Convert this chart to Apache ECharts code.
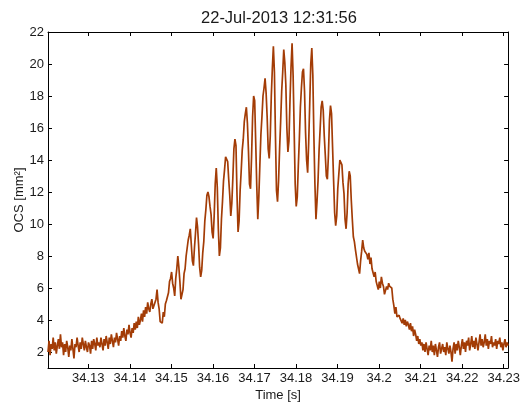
<!DOCTYPE html>
<html>
<head>
<meta charset="utf-8">
<title>OCS trace</title>
<script src="https://cdn.jsdelivr.net/npm/echarts@6/dist/echarts.min.js"></script>
<style>
  html, body { margin: 0; padding: 0; background: #fff; }
  #chart { width: 523px; height: 408px; }
</style>
</head>
<body>
<div id="chart"></div>
<script>
// Sampling of the recorded trace
const startTime = 34.1203;   // s
const sampleStep = 0.00025;  // s

// Optical cross section samples [mm^2]
const ocs = [
  2.0, 2.7, 1.8, 2.5, 2.2, 2.9, 2.1, 2.6, 1.9, 2.4,
  2.8, 2.2, 3.1, 2.3, 2.6, 1.8, 2.5, 2.0, 2.7, 2.3,
  1.7, 2.4, 2.1, 2.8, 2.2, 1.6, 2.5, 2.3, 2.9, 2.4,
  2.0, 2.6, 2.2, 2.9, 2.5, 2.1, 2.7, 2.3, 2.0, 2.6,
  2.4, 1.9, 2.7, 2.2, 2.8, 2.5, 2.1, 2.9, 2.4, 2.6,
  2.3, 2.9, 2.5, 2.1, 2.8, 2.4, 3.0, 2.6, 2.2, 2.9,
  2.5, 3.1, 2.7, 2.3, 2.9, 2.6, 3.2, 2.8, 2.4, 3.0,
  2.7, 3.3, 2.9, 3.5, 3.0, 2.7, 3.4, 3.1, 3.7, 3.2,
  2.9, 3.5, 3.2, 3.8, 3.4, 3.9, 3.5, 4.2, 3.7, 4.0,
  4.4, 3.9, 4.6, 4.2, 4.8, 4.4, 5.1, 4.7, 4.5, 5.0,
  5.3, 4.7, 4.6, 5.1, 5.3, 5.9, 5.1, 4.7, 3.9, 3.8,
  3.8, 4.5, 4.2, 5.0, 5.2, 5.1, 5.7, 6.4, 6.6, 7.0,
  6.3, 6.0, 5.5, 6.6, 7.2, 8.0, 7.3, 6.4, 5.3, 5.4,
  5.9, 6.9, 7.2, 8.0, 8.5, 9.0, 9.3, 9.7, 8.7, 7.7,
  7.4, 8.5, 9.4, 10.4, 9.8, 8.7, 7.3, 6.7, 7.1, 8.2,
  8.9, 10.2, 10.9, 11.8, 12.0, 11.7, 11.1, 10.6, 9.5, 9.1,
  10.5, 12.5, 13.5, 12.3, 9.7, 8.0, 8.5, 10.3, 11.4, 12.7,
  13.4, 14.2, 14.3, 13.9, 12.8, 11.8, 10.5, 11.3, 12.9, 14.7,
  15.3, 14.9, 11.8, 9.5, 10.2, 12.1, 13.3, 14.6, 15.3, 16.4,
  16.9, 17.3, 16.3, 14.6, 12.5, 12.2, 14.2, 16.7, 18.0, 17.7,
  15.1, 12.4, 10.3, 11.7, 13.7, 15.6, 16.7, 18.0, 18.5, 19.1,
  18.2, 16.7, 14.7, 14.1, 15.5, 18.0, 19.7, 21.1, 19.5, 15.5,
  12.1, 11.4, 12.7, 14.7, 16.4, 18.3, 19.5, 20.9, 20.1, 18.7,
  16.0, 14.5, 15.2, 17.7, 19.8, 21.3, 19.3, 15.9, 12.5, 11.1,
  11.7, 13.6, 15.3, 17.3, 18.5, 19.5, 19.7, 18.3, 15.7, 14.0,
  13.2, 15.1, 17.5, 20.0, 21.0, 19.3, 15.5, 12.5, 10.3, 11.4,
  12.7, 14.6, 15.9, 17.3, 17.7, 17.1, 15.5, 14.3, 13.0, 12.8,
  14.3, 16.5, 17.4, 16.9, 14.8, 12.7, 10.7, 9.9, 10.5, 12.2,
  13.1, 14.0, 14.1, 13.7, 12.6, 11.9, 10.3, 9.7, 10.7, 12.5,
  13.3, 13.0, 11.5, 10.3, 9.2, 8.9, 8.4, 8.3, 7.5, 7.2,
  6.9, 7.7, 8.3, 9.0, 8.5, 8.3, 8.3, 8.1, 7.8, 8.2,
  7.5, 7.9, 7.2, 7.1, 6.7, 7.0, 6.4, 6.3, 5.9, 6.4,
  6.0, 6.7, 6.3, 6.1, 5.6, 5.7, 6.1, 5.9, 6.3, 6.1,
  6.2, 6.0, 5.3, 4.9, 4.4, 4.8, 4.2, 4.2, 4.3, 4.1,
  4.2, 3.8, 4.1, 3.7, 4.0, 3.6, 3.9, 3.7, 3.4, 3.8,
  3.3, 3.6, 3.0, 3.4, 3.1, 2.7, 3.0, 2.5, 2.8, 2.4,
  2.6, 2.1, 2.5, 2.0, 2.6, 2.2, 1.8, 2.4, 2.1, 2.7,
  2.0, 2.4, 1.8, 2.5, 2.1, 1.7, 2.3, 2.6, 1.9, 2.2,
  2.5, 2.0, 2.3, 1.8, 2.6, 2.2, 1.9, 2.4, 2.0, 1.4,
  2.2, 2.6, 1.9, 2.5, 2.1, 2.7, 2.3, 1.8, 2.4, 2.8,
  2.2, 2.6, 2.0, 2.7, 2.4, 2.9, 2.1, 2.5, 3.0, 2.3,
  2.7, 2.2, 2.9, 2.5, 2.1, 2.6, 3.1, 2.4, 2.8, 2.3,
  2.6, 3.1, 2.4, 2.8, 2.2, 2.7, 2.5, 3.0, 2.3, 2.6,
  2.4, 2.8, 2.2, 2.7, 2.5, 2.9, 2.3, 2.6, 2.1, 2.5,
  2.8, 2.3, 2.6, 2.4
];

// Axis ticks
const timeTicks = [34.13, 34.14, 34.15, 34.16, 34.17, 34.18, 34.19, 34.20, 34.21, 34.22, 34.23];
const ocsTicks = [2, 4, 6, 8, 10, 12, 14, 16, 18, 20, 22];

const timeMin = 34.1203;
const timeMax = 34.23105;
const ocsMin = 1;
const ocsMax = 22;

const points = ocs.map((v, i) => [startTime + i * sampleStep, v]);

const font = 'Liberation Sans, Arial, Helvetica, sans-serif';
const ink = '#1a1a1a';

const tickStyle = (values) => ({
  show: true,
  inside: true,
  length: 4,
  customValues: values,
  lineStyle: { color: '#000', width: 1 }
});

const chart = echarts.init(document.getElementById('chart'), null, { renderer: 'canvas' });
chart.setOption({
  animation: false,
  backgroundColor: '#fff',
  title: {
    text: '22-Jul-2013 12:31:56',
    left: 274,
    top: 5,
    textAlign: 'center',
    textStyle: { fontFamily: font, fontSize: 16.5, fontWeight: 'normal', color: ink }
  },
  grid: { left: 48, right: 13, top: 32, bottom: 40, containLabel: false },
  xAxis: [
    {
      type: 'value',
      position: 'bottom',
      min: timeMin,
      max: timeMax,
      name: 'Time [s]',
      nameLocation: 'middle',
      nameGap: 21,
      nameMoveOverlap: false,
      nameTextStyle: { fontFamily: font, fontSize: 13, color: ink },
      axisLine: { show: true, onZero: false, lineStyle: { color: '#000', width: 1 } },
      axisTick: tickStyle(timeTicks),
      axisLabel: {
        customValues: timeTicks,
        margin: 4,
        fontFamily: font,
        fontSize: 13,
        color: ink,
        formatter: (v) => String(+v.toFixed(2))
      },
      splitLine: { show: false }
    },
    {
      type: 'value',
      position: 'top',
      min: timeMin,
      max: timeMax,
      axisLine: { show: true, onZero: false, lineStyle: { color: '#000', width: 1 } },
      axisTick: tickStyle(timeTicks),
      axisLabel: { show: false },
      splitLine: { show: false }
    }
  ],
  yAxis: [
    {
      type: 'value',
      position: 'left',
      min: ocsMin,
      max: ocsMax,
      name: 'OCS [mm²]',
      nameLocation: 'middle',
      nameGap: 22,
      nameMoveOverlap: false,
      nameRotate: 90,
      nameTextStyle: { fontFamily: font, fontSize: 13, color: ink },
      axisLine: { show: true, onZero: false, lineStyle: { color: '#000', width: 1 } },
      axisTick: tickStyle(ocsTicks),
      axisLabel: {
        customValues: ocsTicks,
        margin: 4,
        fontFamily: font,
        fontSize: 13,
        color: ink
      },
      splitLine: { show: false }
    },
    {
      type: 'value',
      position: 'right',
      min: ocsMin,
      max: ocsMax,
      axisLine: { show: true, onZero: false, lineStyle: { color: '#000', width: 1 } },
      axisTick: tickStyle(ocsTicks),
      axisLabel: { show: false },
      splitLine: { show: false }
    }
  ],
  series: [
    {
      type: 'line',
      xAxisIndex: 0,
      yAxisIndex: 0,
      data: points,
      showSymbol: false,
      symbol: 'none',
      sampling: null,
      lineStyle: { color: '#a33c06', width: 1.7 },
      clip: true
    }
  ]
});
</script>
</body>
</html>
